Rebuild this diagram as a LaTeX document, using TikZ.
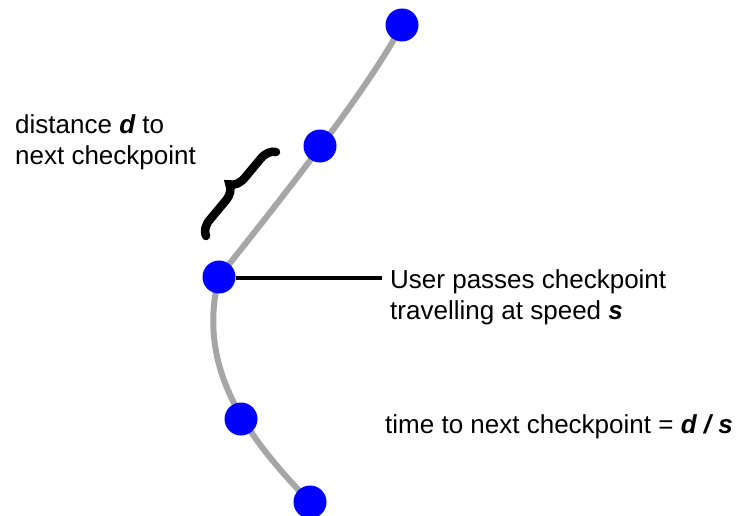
\documentclass[tikz,border=0pt]{standalone}
\usepackage{fontspec}
\setmainfont{Liberation Sans}
\usetikzlibrary{decorations.pathreplacing,backgrounds,calc}
\begin{document}
\begin{tikzpicture}[x=1pt,y=-1pt,
  checkpt/.style={circle,fill=blue,inner sep=0pt,minimum size=33pt},
  route/.style={draw=black!35,line width=6pt},
  lbl/.style={font=\fontsize{26}{31}\selectfont,inner sep=0pt,align=left}]
\useasboundingbox (0,0) rectangle (738,516);
\node[checkpt] (c1) at (402,25) {};
\node[checkpt] (c2) at (320,146) {};
\node[checkpt] (c3) at (219,277) {};
\node[checkpt] (c4) at (241,419) {};
\node[checkpt] (c5) at (310,502) {};
\begin{pgfonlayer}{background}
\draw[route] (c3.center) .. controls (268,215) and (365,95) .. (c1.center);
\draw[route] (c3.center) .. controls (195,370) and (250,440) .. (c5.center);
\end{pgfonlayer}
\coordinate (b1) at (206,236);
\coordinate (b2) at (276,152);
\draw[line width=8.5pt,line cap=round,decorate,decoration={brace,amplitude=15pt}] (b1) -- (b2);
\node[lbl,anchor=north west] (t1) at (15,114) {distance {\bfseries\itshape d} to\\next checkpoint};
\node[lbl,anchor=north west] (t2) at (390,269) {User passes checkpoint\\travelling at speed {\bfseries\itshape s}};
\node[lbl,anchor=base west] (t3) at (385,433) {time to next checkpoint = {\bfseries\itshape d / s}};
\coordinate (lend) at (382,278);
\draw[line width=3.5pt] (c3.east |- lend) -- (lend);
\end{tikzpicture}
\end{document}
